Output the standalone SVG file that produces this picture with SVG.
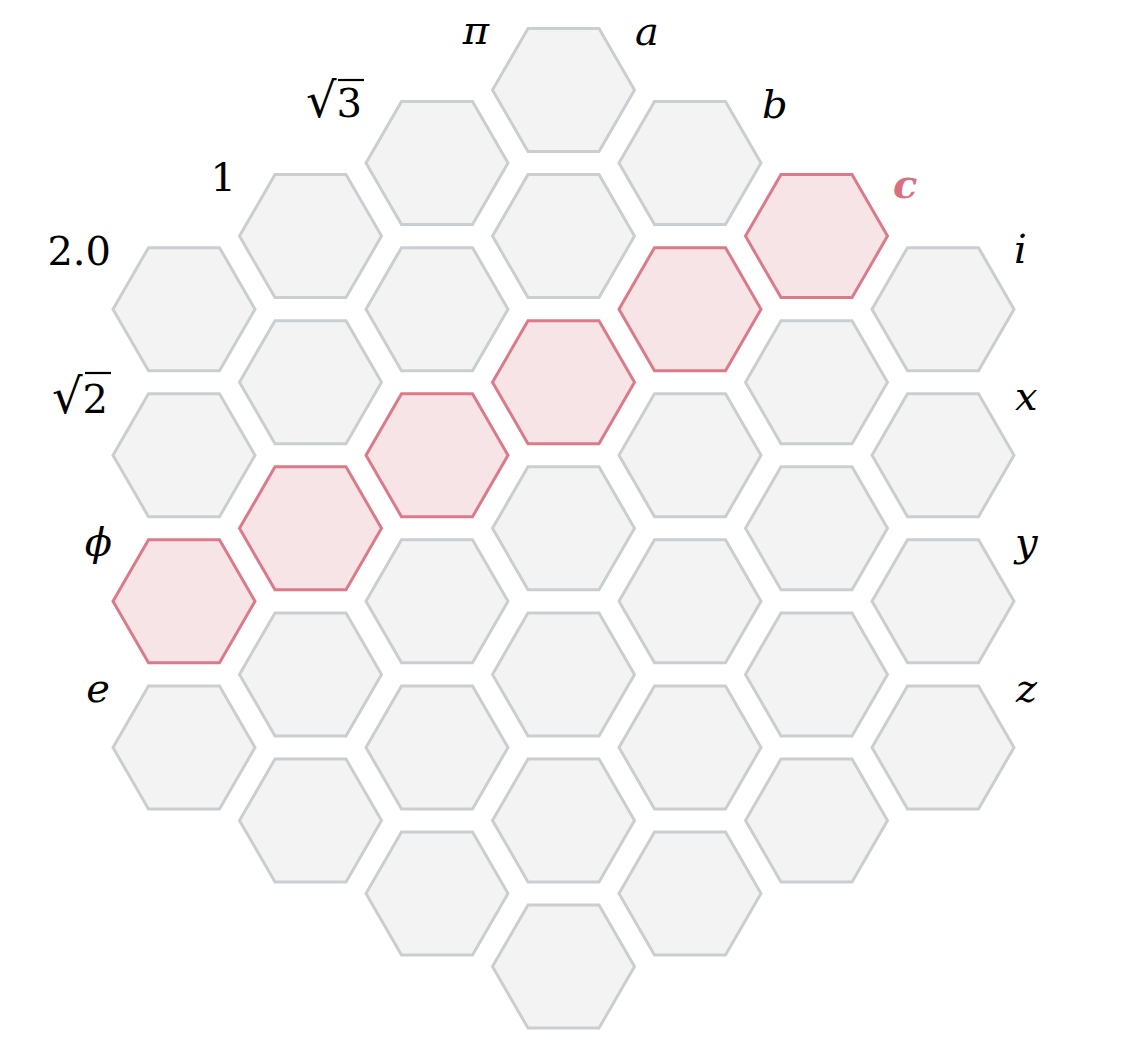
<svg xmlns="http://www.w3.org/2000/svg" width="1126" height="1062" viewBox="0 0 1126 1062">
<style>
.hex{fill:#f3f3f4;stroke:#cbced0;stroke-width:3}
.hot{fill:#f6e4e7;stroke:#db7a88;stroke-width:3}
.lbl{font-family:"DejaVu Serif","Liberation Serif",serif;font-size:40px;fill:#000}
.it{font-style:italic}
.end{text-anchor:end}
.vin{stroke:#000;stroke-width:2.2}
</style>
<defs>
<polygon id="hx" points="71,0 35.5,61.49 -35.5,61.49 -71,0 -35.5,-61.49 35.5,-61.49"/>
</defs>
<rect width="1126" height="1062" fill="#fff"/>
<g id="nodes">
<g id="h-3m3"><use href="#hx" class="hex" x="184" y="309.15"/></g>
<g id="h-3m1"><use href="#hx" class="hex" x="184" y="455.25"/></g>
<g id="h-3p1"><use href="#hx" class="hot" x="184" y="601.35"/></g>
<g id="h-3p3"><use href="#hx" class="hex" x="184" y="747.45"/></g>

<g id="h-2m4"><use href="#hx" class="hex" x="310.5" y="236.1"/></g>
<g id="h-2m2"><use href="#hx" class="hex" x="310.5" y="382.2"/></g>
<g id="h-2p0"><use href="#hx" class="hot" x="310.5" y="528.3"/></g>
<g id="h-2p2"><use href="#hx" class="hex" x="310.5" y="674.4"/></g>
<g id="h-2p4"><use href="#hx" class="hex" x="310.5" y="820.5"/></g>

<g id="h-1m5"><use href="#hx" class="hex" x="437" y="163.05"/></g>
<g id="h-1m3"><use href="#hx" class="hex" x="437" y="309.15"/></g>
<g id="h-1m1"><use href="#hx" class="hot" x="437" y="455.25"/></g>
<g id="h-1p1"><use href="#hx" class="hex" x="437" y="601.35"/></g>
<g id="h-1p3"><use href="#hx" class="hex" x="437" y="747.45"/></g>
<g id="h-1p5"><use href="#hx" class="hex" x="437" y="893.55"/></g>

<g id="h0m6"><use href="#hx" class="hex" x="563.5" y="90"/></g>
<g id="h0m4"><use href="#hx" class="hex" x="563.5" y="236.1"/></g>
<g id="h0m2"><use href="#hx" class="hot" x="563.5" y="382.2"/></g>
<g id="h0p0"><use href="#hx" class="hex" x="563.5" y="528.3"/></g>
<g id="h0p2"><use href="#hx" class="hex" x="563.5" y="674.4"/></g>
<g id="h0p4"><use href="#hx" class="hex" x="563.5" y="820.5"/></g>
<g id="h0p6"><use href="#hx" class="hex" x="563.5" y="966.6"/></g>

<g id="h1m5"><use href="#hx" class="hex" x="690" y="163.05"/></g>
<g id="h1m3"><use href="#hx" class="hot" x="690" y="309.15"/></g>
<g id="h1m1"><use href="#hx" class="hex" x="690" y="455.25"/></g>
<g id="h1p1"><use href="#hx" class="hex" x="690" y="601.35"/></g>
<g id="h1p3"><use href="#hx" class="hex" x="690" y="747.45"/></g>
<g id="h1p5"><use href="#hx" class="hex" x="690" y="893.55"/></g>

<g id="h2m4"><use href="#hx" class="hot" x="816.5" y="236.1"/></g>
<g id="h2m2"><use href="#hx" class="hex" x="816.5" y="382.2"/></g>
<g id="h2p0"><use href="#hx" class="hex" x="816.5" y="528.3"/></g>
<g id="h2p2"><use href="#hx" class="hex" x="816.5" y="674.4"/></g>
<g id="h2p4"><use href="#hx" class="hex" x="816.5" y="820.5"/></g>

<g id="h3m3"><use href="#hx" class="hex" x="943" y="309.15"/></g>
<g id="h3m1"><use href="#hx" class="hex" x="943" y="455.25"/></g>
<g id="h3p1"><use href="#hx" class="hex" x="943" y="601.35"/></g>
<g id="h3p3"><use href="#hx" class="hex" x="943" y="747.45"/></g>
</g>
<g id="connectors"/>
<g id="labels">
<g id="lbl-pi"><text class="lbl it end" x="489" y="44">π</text></g>
<g id="lbl-a"><text class="lbl it" x="635" y="45">a</text></g>
<g id="lbl-sqrt3"><text class="lbl" x="306" y="117"><tspan font-size="48">√</tspan>3</text><line class="vin" x1="338" y1="80" x2="364" y2="80"/></g>
<g id="lbl-b"><text class="lbl it" x="762" y="118">b</text></g>
<g id="lbl-1"><text class="lbl end" x="236" y="191">1</text></g>
<g id="lbl-c"><text class="lbl it" x="893" y="198" font-weight="bold" style="fill:#d9707f">c</text></g>
<g id="lbl-2.0"><text class="lbl end" x="111" y="265">2.0</text></g>
<g id="lbl-i"><text class="lbl it" x="1014" y="263">i</text></g>
<g id="lbl-sqrt2"><text class="lbl" x="52" y="413"><tspan font-size="48">√</tspan>2</text><line class="vin" x1="85" y1="373" x2="111" y2="373"/></g>
<g id="lbl-x"><text class="lbl it" x="1015" y="410">x</text></g>
<g id="lbl-phi"><text class="lbl it end" x="112" y="556">ϕ</text></g>
<g id="lbl-y"><text class="lbl it" x="1015" y="556">y</text></g>
<g id="lbl-e"><text class="lbl it end" x="110" y="702">e</text></g>
<g id="lbl-z"><text class="lbl it" x="1016" y="702">z</text></g>
</g>
</svg>
